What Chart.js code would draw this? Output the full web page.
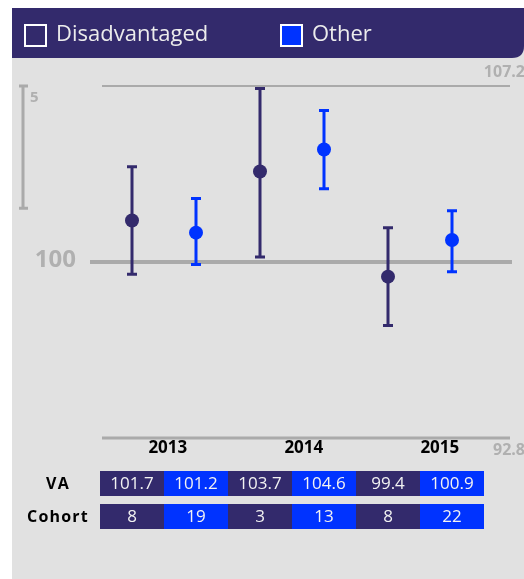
<!DOCTYPE html>
<html>
<head>
<meta charset="utf-8">
<script src="https://cdn.jsdelivr.net/npm/chart.js@4"></script>
<style>
  html, body { margin: 0; padding: 0; background: #fff; }
  #wrap { position: relative; width: 524px; height: 579px; }
</style>
</head>
<body>
<div id="wrap"><canvas id="canvas1" width="524" height="579"></canvas></div>
<script>
// chart values
const years = ["2013", "2014", "2015"];
const groups = ["Disadvantaged", "Other"];
const vaDisadvantaged = [101.7, 103.7, 99.4];
const vaOther = [101.2, 104.6, 100.9];
const lowDisadvantaged = [99.5, 100.2, 97.4];
const highDisadvantaged = [103.9, 107.1, 101.4];
const lowOther = [99.9, 103.0, 99.6];
const highOther = [102.6, 106.2, 102.1];
const cohortDisadvantaged = [8, 3, 8];
const cohortOther = [19, 13, 22];
const yMin = 92.8, yMax = 107.2, baseline = 100, scaleBarSize = 5;

const DARK = "rgb(51,42,108)";
const BLUE = "rgb(0,51,255)";
const LINE = "#aaaaaa";
const FONT = "'Open Sans', 'Noto Sans', sans-serif";

// each year gets two columns: disadvantaged then other
const points = (vals, off) => vals.map((v, i) => ({ x: i * 2 + off, y: v }));

const decor = {
    id: "decor",
    beforeDraw(chart) {
        const ctx = chart.ctx;
        const ys = chart.scales.y, xs = chart.scales.x;
        const W = chart.width;
        ctx.save();
        ctx.fillStyle = "#fff";
        ctx.fillRect(0, 0, W, chart.height);
        ctx.fillStyle = "#e1e1e1";
        ctx.fillRect(12, 8, W - 12, chart.height - 8);

        // header band with rounded lower right corner
        ctx.fillStyle = DARK;
        ctx.beginPath();
        ctx.moveTo(12, 8);
        ctx.lineTo(W, 8);
        ctx.lineTo(W, 46);
        ctx.quadraticCurveTo(W, 58, W - 12, 58);
        ctx.lineTo(12, 58);
        ctx.closePath();
        ctx.fill();

        // legend
        ctx.lineWidth = 2;
        ctx.strokeStyle = "#fff";
        ctx.fillStyle = DARK;
        ctx.fillRect(25, 25, 21, 21);
        ctx.strokeRect(25, 25, 21, 21);
        ctx.fillStyle = BLUE;
        ctx.fillRect(281, 25, 21, 21);
        ctx.strokeRect(281, 25, 21, 21);
        ctx.fillStyle = "#ececec";
        ctx.font = "22px " + FONT;
        ctx.textBaseline = "middle";
        ctx.textAlign = "left";
        ctx.fillText(groups[0], 56, 35);
        ctx.fillText(groups[1], 312, 35);

        // reference lines
        const yTop = ys.getPixelForValue(yMax);
        const yBot = ys.getPixelForValue(yMin);
        const y100 = ys.getPixelForValue(baseline);
        ctx.strokeStyle = LINE;
        ctx.lineWidth = 2;
        ctx.beginPath(); ctx.moveTo(102, yTop); ctx.lineTo(510, yTop); ctx.stroke();
        ctx.lineWidth = 3;
        ctx.beginPath(); ctx.moveTo(102, yBot); ctx.lineTo(510, yBot); ctx.stroke();
        ctx.lineWidth = 4;
        ctx.beginPath(); ctx.moveTo(90, y100); ctx.lineTo(512, y100); ctx.stroke();

        // scale bar
        const sTop = ys.getPixelForValue(yMax);
        const sBot = ys.getPixelForValue(yMax - scaleBarSize);
        ctx.lineWidth = 3;
        ctx.beginPath();
        ctx.moveTo(23, sTop); ctx.lineTo(23, sBot);
        ctx.moveTo(19, sTop); ctx.lineTo(28, sTop);
        ctx.moveTo(19, sBot); ctx.lineTo(28, sBot);
        ctx.stroke();

        // gray labels
        ctx.fillStyle = "#b0b0b0";
        ctx.font = "bold 15px " + FONT;
        ctx.fillText(String(scaleBarSize), 30, sTop + 12);
        ctx.textAlign = "right";
        ctx.font = "bold 16px " + FONT;
        ctx.fillText(String(yMax), W + 1, yTop - 14);
        ctx.fillText(String(yMin), W + 1, yBot + 12);
        ctx.font = "bold 24px " + FONT;
        ctx.fillText(String(baseline), 76, y100 - 2);

        // year labels
        ctx.fillStyle = "#000";
        ctx.textAlign = "center";
        ctx.font = "bold 17px " + FONT;
        years.forEach((yr, i) => {
            ctx.fillText(yr, xs.getPixelForValue(0.56 + i * 2.125), yBot + 10);
        });

        // table rows
        const rows = [
            { label: "VA", top: 471, dis: vaDisadvantaged.map(v => v.toFixed(1)), oth: vaOther.map(v => v.toFixed(1)) },
            { label: "Cohort", top: 504, dis: cohortDisadvantaged, oth: cohortOther }
        ];
        const colW = xs.getPixelForValue(1) - xs.getPixelForValue(0);
        rows.forEach(r => {
            ctx.fillStyle = "#000";
            ctx.font = "bold 16px " + FONT;
            ctx.textAlign = "center";
            if (ctx.letterSpacing !== undefined) ctx.letterSpacing = "1.2px";
            ctx.fillText(r.label, 58, r.top + 13);
            if (ctx.letterSpacing !== undefined) ctx.letterSpacing = "0px";
            ctx.font = "17px " + FONT;
            years.forEach((yr, i) => {
                [[r.dis[i], DARK, 0], [r.oth[i], BLUE, 1]].forEach(([txt, col, off]) => {
                    const cx = xs.getPixelForValue(i * 2 + off);
                    ctx.fillStyle = col;
                    ctx.fillRect(cx - colW / 2, r.top, colW, 25);
                    ctx.fillStyle = "#f2f2f2";
                    ctx.fillText(String(txt), cx, r.top + 13);
                });
            });
        });
        ctx.restore();
    },
    beforeDatasetsDraw(chart) {
        // error bars under the points
        const ctx = chart.ctx;
        const ys = chart.scales.y, xs = chart.scales.x;
        const sets = [[lowDisadvantaged, highDisadvantaged, DARK, 0], [lowOther, highOther, BLUE, 1]];
        ctx.save();
        ctx.lineWidth = 3;
        sets.forEach(([lo, hi, col, off]) => {
            ctx.strokeStyle = col;
            lo.forEach((l, i) => {
                const x = xs.getPixelForValue(i * 2 + off);
                const y1 = ys.getPixelForValue(hi[i]), y2 = ys.getPixelForValue(l);
                ctx.beginPath();
                ctx.moveTo(x, y1); ctx.lineTo(x, y2);
                ctx.moveTo(x - 5, y1); ctx.lineTo(x + 5, y1);
                ctx.moveTo(x - 5, y2); ctx.lineTo(x + 5, y2);
                ctx.stroke();
            });
        });
        ctx.restore();
    }
};

const ctx = document.querySelector("#canvas1");
const myChart = new Chart(ctx, {
    type: "scatter",
    data: {
        datasets: [
            { label: groups[0], data: points(vaDisadvantaged, 0), backgroundColor: DARK, borderColor: DARK },
            { label: groups[1], data: points(vaOther, 1), backgroundColor: BLUE, borderColor: BLUE }
        ]
    },
    options: {
        responsive: false,
        animation: false,
        devicePixelRatio: 1,
        layout: { padding: { top: 86, bottom: 141, left: 100, right: 40 } },
        elements: { point: { radius: 7, hoverRadius: 7, borderWidth: 0 } },
        scales: {
            x: { type: "linear", min: -0.5, max: 5.5, display: false },
            y: { min: yMin, max: yMax, display: false }
        },
        plugins: { legend: { display: false }, tooltip: { enabled: false } }
    },
    plugins: [decor]
});
</script>
</body>
</html>
